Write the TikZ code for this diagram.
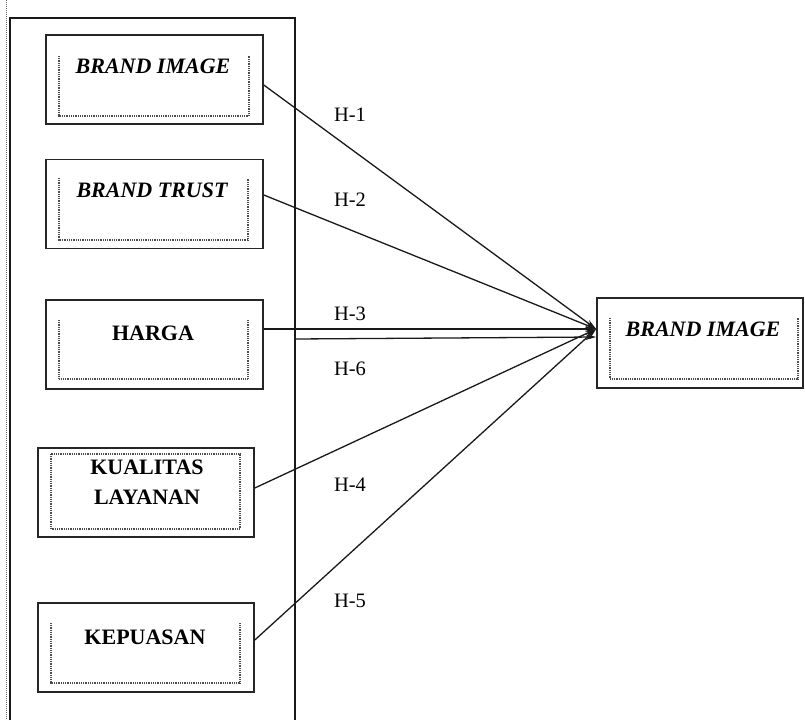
\documentclass[tikz,border=0pt]{standalone}
\usepackage{fontspec}
\setmainfont{Liberation Serif}
\usetikzlibrary{arrows.meta}
\begin{document}
\begin{tikzpicture}[x=1pt,y=-1pt,
  outerbox/.style={draw=black!85,line width=1.6pt,rectangle,inner sep=0pt,minimum width=#1,minimum height=89pt},
  innerdots/.style={draw=black!70,line width=1.1pt,dash pattern=on 1pt off 0.8pt},
  boxtext/.style={inner sep=0pt,font=\fontsize{22}{30}\selectfont\bfseries},
  boxtexti/.style={inner sep=0pt,font=\fontsize{22}{30}\selectfont\bfseries\itshape},
  hlabel/.style={inner sep=0pt,font=\fontsize{20.5}{24}\selectfont},
  arr/.style={draw=black!90,line width=1.3pt,-{Stealth[length=11pt,width=6pt]}},
  frame/.style={draw=black!90,line width=1.4pt}]
\useasboundingbox (0,0) rectangle (805,720);
% page margin line
\draw[black!60,line width=1pt,dash pattern=on 1pt off 1pt] (6,0) -- (6,720);
% container
\draw[frame] (10,720) -- (10,18) -- (295,18) -- (295,720);
\coordinate (c6) at (295,339);
% boxes
\node[outerbox=217pt] (b1) at (154.5,79.5) {};
\node[outerbox=217pt] (b2) at (154.5,204) {};
\node[outerbox=217pt] (b3) at (154.5,344.5) {};
\node[outerbox=216pt] (b4) at (146,492.5) {};
\node[outerbox=216pt] (b5) at (146,647.5) {};
\node[outerbox=206pt,minimum height=90pt] (tg) at (700,343) {};
% inner dotted frames
\draw[innerdots] (59,56) -- (59,116) -- (249,116) -- (249,56);
\draw[innerdots] (59,178) -- (59,240) -- (248,240) -- (248,178);
\draw[innerdots] (59,320) -- (59,379) -- (248,379) -- (248,320);
\draw[innerdots] (51,454) rectangle (240,529);
\draw[innerdots] (51,623) -- (51,683) -- (240,683) -- (240,623);
\draw[innerdots] (610,318) -- (610,379) -- (798,379) -- (798,318);
% texts
\node[boxtexti] (t1) at (153,66) {BRAND IMAGE};
\node[boxtexti] (t2) at (152,190) {BRAND TRUST};
\node[boxtext] (t3) at (153,333) {HARGA};
\node[boxtext,align=center] (t4) at (147,482) {KUALITAS\\LAYANAN};
\node[boxtext] (t5) at (145,637) {KEPUASAN};
\node[boxtexti] (tt) at (703,329) {BRAND IMAGE};
% arrows
\draw[arr] ([yshift=-5.5pt]b1.east) -- ([yshift=14pt]tg.west);
\draw[arr] ([yshift=9pt]b2.east) -- ([yshift=14pt]tg.west);
\draw[arr] ([yshift=15.5pt]b3.east) -- ([yshift=14pt]tg.west);
\draw[arr] (c6) -- ([yshift=6pt]tg.west);
\draw[arr] ([yshift=4.5pt]b4.east) -- ([yshift=14pt]tg.west);
\draw[arr] ([yshift=7.5pt]b5.east) -- ([yshift=14pt]tg.west);
% labels
\node[hlabel] (h1) at (350,115) {H-1};
\node[hlabel] (h2) at (350,200) {H-2};
\node[hlabel] (h3) at (350,314) {H-3};
\node[hlabel] (h6) at (350,369) {H-6};
\node[hlabel] (h4) at (350,485) {H-4};
\node[hlabel] (h5) at (350,601) {H-5};
\end{tikzpicture}
\end{document}
